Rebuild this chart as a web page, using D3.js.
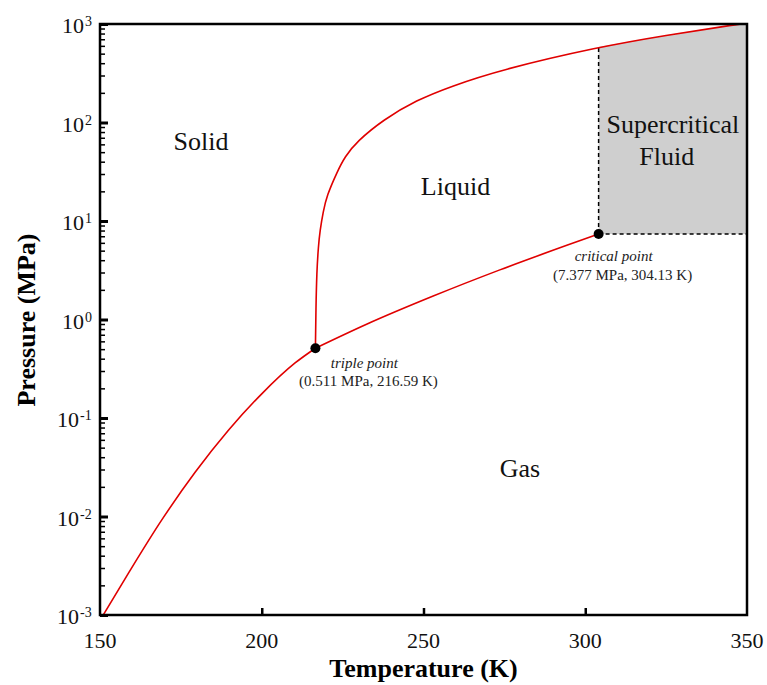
<!DOCTYPE html>
<html>
  <head>
    <meta charset="utf-8" />
    <title>CO2 phase diagram</title>
    <script src="https://cdn.jsdelivr.net/npm/d3@7"></script>
    <style type="text/css">
      body { margin: 0; background: #fff; }
      svg { display: block; font-family: "Liberation Serif", "Times New Roman", serif; }
    </style>
  </head>
  <body>
    <svg id="chart" width="767" height="685"></svg>
    <script type="text/javascript">
      // sublimation curve (solid - gas)
      var sublimationT = [151.0, 158.8, 169.1, 179.4, 189.7, 200.0, 210.3, 216.59];
      var sublimationP = [0.001, 0.00266, 0.00923, 0.0281, 0.075, 0.176, 0.362, 0.511];

      // vaporization curve (liquid - gas), triple point -> critical point
      var vaporT = [216.59, 232.4, 253.0, 273.6, 294.3, 304.13];
      var vaporP = [0.511, 0.895, 1.73, 3.19, 5.66, 7.377];

      // melting curve (solid - liquid)
      var meltT = [216.59, 216.75, 217.0, 217.5, 218.0, 219.0, 220.1, 223.2, 225.7, 229.4, 237.6, 247.9, 258.2, 273.6, 304.13, 325.2, 345.0, 350.0];
      var meltP = [0.511, 1.3, 3.0, 5.5, 8.0, 12.5, 18, 31, 45, 64, 107, 169, 231, 341, 585, 770, 970, 1015];

      // special points
      var pointNames = ['triple point', 'critical point'];
      var pointT = [216.59, 304.13];
      var pointP = [0.511, 7.377];
      var pointText = ['(0.511 MPa, 216.59 K)', '(7.377 MPa, 304.13 K)'];

      // region labels (anchored in data coords)
      var regionNames = ['Solid', 'Liquid', 'Gas', 'Supercritical', 'Fluid'];
      var regionT = [181.2, 259.9, 279.8, 327.1, 325.2];
      var regionP = [52.6, 18.4, 0.0254, 78.2, 37.1];

      var xTicks = [150, 200, 250, 300, 350];
      var yExponents = [-3, -2, -1, 0, 1, 2, 3];

      var svg = d3.select('#chart');
      var pLeft = 100, pRight = 747, pTop = 24, pBottom = 615;

      var x = d3.scaleLinear().domain([150, 350]).range([pLeft, pRight]);
      var y = d3.scaleLog().domain([1e-3, 1e3]).range([pBottom, pTop]);

      var zip = function (ts, ps) { return ts.map(function (t, i) { return [t, ps[i]]; }); };
      var sub = zip(sublimationT, sublimationP);
      var vap = zip(vaporT, vaporP);
      var melt = zip(meltT, meltP);

      svg.append('defs').append('clipPath').attr('id', 'plot')
        .append('rect').attr('x', pLeft).attr('y', pTop)
        .attr('width', pRight - pLeft).attr('height', pBottom - pTop);

      var g = svg.append('g').attr('clip-path', 'url(#plot)');

      var line = d3.line()
        .x(function (d) { return x(d[0]); })
        .y(function (d) { return y(d[1]); })
        .curve(d3.curveMonotoneX);
      var smooth = d3.line()
        .x(function (d) { return x(d[0]); })
        .y(function (d) { return y(d[1]); })
        .curve(d3.curveBasis);

      // supercritical region: under the melting curve, right of / above the critical point
      var crit = [pointT[1], pointP[1]];
      var upper = melt.filter(function (d) { return d[0] >= crit[0]; });
      g.append('path')
        .attr('d', line(upper) + 'L' + x(350) + ',' + y(crit[1]) + 'L' + x(crit[0]) + ',' + y(crit[1]) + 'Z')
        .attr('fill', '#cfcfcf');

      // dashed boundaries
      g.append('line')
        .attr('x1', x(crit[0])).attr('x2', x(crit[0]))
        .attr('y1', y(crit[1])).attr('y2', y(meltP[meltT.indexOf(crit[0])]))
        .attr('stroke', '#000').attr('stroke-width', 1.5).attr('stroke-dasharray', '4,3');
      g.append('line')
        .attr('x1', x(crit[0])).attr('x2', x(350))
        .attr('y1', y(crit[1])).attr('y2', y(crit[1]))
        .attr('stroke', '#000').attr('stroke-width', 1.5).attr('stroke-dasharray', '4,3');

      [[sub, line], [vap, line], [melt, smooth]].forEach(function (c) {
        g.append('path').datum(c[0])
          .attr('d', c[1])
          .attr('fill', 'none')
          .attr('stroke', '#e00000')
          .attr('stroke-width', 1.6);
      });

      // points
      svg.selectAll('circle.pt').data(pointT).enter().append('circle')
        .attr('class', 'pt')
        .attr('cx', function (d) { return x(d); })
        .attr('cy', function (d, i) { return y(pointP[i]); })
        .attr('r', 5)
        .attr('fill', '#000');

      // point annotations
      var offs = [[49, 20, 53, 38], [15, 27, 24, 46]];
      pointNames.forEach(function (name, i) {
        var px = x(pointT[i]), py = y(pointP[i]);
        svg.append('text')
          .attr('x', px + offs[i][0]).attr('y', py + offs[i][1])
          .attr('text-anchor', 'middle')
          .attr('font-style', 'italic')
          .attr('font-size', 15)
          .attr('fill', '#222')
          .text(name);
        svg.append('text')
          .attr('x', px + offs[i][2]).attr('y', py + offs[i][3])
          .attr('text-anchor', 'middle')
          .attr('font-size', 15)
          .attr('fill', '#222')
          .text(pointText[i]);
      });

      // region labels
      svg.selectAll('text.region').data(regionNames).enter().append('text')
        .attr('class', 'region')
        .attr('x', function (d, i) { return x(regionT[i]); })
        .attr('y', function (d, i) { return y(regionP[i]); })
        .attr('text-anchor', 'middle')
        .attr('font-size', 26)
        .attr('fill', '#111')
        .text(function (d) { return d; });

      // frame
      svg.append('rect')
        .attr('x', pLeft).attr('y', pTop)
        .attr('width', pRight - pLeft).attr('height', pBottom - pTop)
        .attr('fill', 'none').attr('stroke', '#000').attr('stroke-width', 2.5);

      // y axis: major + minor ticks, inward
      var minor = [];
      yExponents.slice(0, -1).forEach(function (e) {
        for (var k = 2; k <= 9; k++) minor.push(k * Math.pow(10, e));
      });
      var yMinor = svg.append('g').attr('transform', 'translate(' + pLeft + ',0)')
        .call(d3.axisLeft(y).tickValues(minor).tickSize(-5).tickFormat(''));
      yMinor.select('.domain').remove();
      yMinor.selectAll('line').attr('stroke-width', 1.5);

      var yMajor = svg.append('g').attr('transform', 'translate(' + pLeft + ',0)')
        .call(d3.axisLeft(y).tickValues(yExponents.map(function (e) { return Math.pow(10, e); }))
          .tickSize(-8).tickFormat(''));
      yMajor.select('.domain').remove();
      yMajor.selectAll('line').attr('stroke-width', 3);

      var yl = svg.selectAll('text.ylab').data(yExponents).enter().append('text')
        .attr('class', 'ylab')
        .attr('x', function (e) { return e < 0 ? 57 : 62; })
        .attr('y', function (e) { return y(Math.pow(10, e)) + 9; })
        .attr('font-size', 22)
        .attr('fill', '#111');
      yl.append('tspan').text('10');
      yl.append('tspan').attr('font-size', 14).attr('dy', -7).attr('dx', 1)
        .text(function (e) { return e < 0 ? '-' + (-e) : String(e); });

      // x axis
      var xAx = svg.append('g').attr('transform', 'translate(0,' + pBottom + ')')
        .call(d3.axisBottom(x).tickValues(xTicks.slice(1, -1)).tickSize(-7).tickFormat(''));
      xAx.select('.domain').remove();
      xAx.selectAll('line').attr('stroke-width', 2.5);

      svg.selectAll('text.xlab').data(xTicks).enter().append('text')
        .attr('class', 'xlab')
        .attr('x', function (d) { return x(d); })
        .attr('y', 648)
        .attr('text-anchor', 'middle')
        .attr('font-size', 22)
        .attr('fill', '#111')
        .text(function (d) { return d; });

      // axis titles
      svg.append('text')
        .attr('x', (pLeft + pRight) / 2).attr('y', 677)
        .attr('text-anchor', 'middle')
        .attr('font-size', 26).attr('font-weight', 'bold')
        .text('Temperature (K)');
      svg.append('text')
        .attr('transform', 'translate(35,320) rotate(-90)')
        .attr('text-anchor', 'middle')
        .attr('font-size', 26).attr('font-weight', 'bold')
        .text('Pressure (MPa)');
    </script>
  </body>
</html>
